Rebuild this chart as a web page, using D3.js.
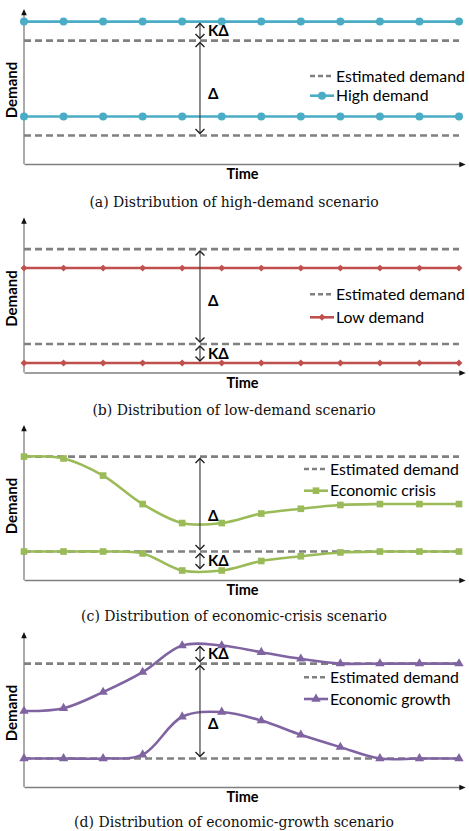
<!DOCTYPE html>
<html>
<head>
<meta charset="utf-8">
<script src="https://cdn.jsdelivr.net/npm/d3@7/dist/d3.min.js"></script>
<style>
  body { margin: 0; background: #fff; }
  text { font-family: Lato, "Open Sans", sans-serif; fill: #000; }
  .caption { font-family: "DejaVu Serif", "Liberation Serif", serif; fill: #111; }
</style>
</head>
<body>
<div class="chart"></div>
<script>
// time steps (x categories)
const time = [1, 2, 3, 4, 5, 6, 7, 8, 9, 10, 11, 12];
// two estimated demand levels, Δ apart
const estimated = [1, 2];
const K = 0.2;

const highUpper = [2.2, 2.2, 2.2, 2.2, 2.2, 2.2, 2.2, 2.2, 2.2, 2.2, 2.2, 2.2];
const highLower = [1.2, 1.2, 1.2, 1.2, 1.2, 1.2, 1.2, 1.2, 1.2, 1.2, 1.2, 1.2];
const lowUpper = [1.8, 1.8, 1.8, 1.8, 1.8, 1.8, 1.8, 1.8, 1.8, 1.8, 1.8, 1.8];
const lowLower = [0.8, 0.8, 0.8, 0.8, 0.8, 0.8, 0.8, 0.8, 0.8, 0.8, 0.8, 0.8];
const crisisUpper = [2.0, 1.98, 1.8, 1.5, 1.3, 1.3, 1.4, 1.45, 1.49, 1.5, 1.5, 1.5];
const crisisLower = [1.0, 1.0, 1.0, 0.98, 0.8, 0.8, 0.9, 0.95, 0.99, 1.0, 1.0, 1.0];
const growthUpper = [1.5, 1.53, 1.7, 1.91, 2.19, 2.19, 2.12, 2.05, 2.0, 2.0, 2.0, 2.0];
const growthLower = [1.0, 1.0, 1.0, 1.04, 1.44, 1.49, 1.4, 1.25, 1.12, 1.0, 1.0, 1.0];

const seriesNames = ["High demand", "Low demand", "Economic crisis", "Economic growth"];
const captions = [
  "(a) Distribution of high-demand scenario",
  "(b) Distribution of low-demand scenario",
  "(c) Distribution of economic-crisis scenario",
  "(d) Distribution of economic-growth scenario"
];

const width = 469;
const height = 831;

const panels = [
  { name: seriesNames[0], caption: captions[0], series: [highUpper, highLower],
    color: "#4bacc6", symbol: d3.symbolCircle, size: 50, curve: d3.curveLinear,
    axisY: 164, kArrow: [2.0, 2.0 + K], deltaLabel: 1.44,
    legendX: 310, legendY: [-88, -68.3], captionY: 207 },
  { name: seriesNames[1], caption: captions[1], series: [lowUpper, lowLower],
    color: "#c0504d", symbol: d3.symbolDiamond2 || d3.symbolDiamond, size: 30, curve: d3.curveLinear,
    axisY: 372.5, kArrow: [1.0 - K, 1.0], deltaLabel: 1.46,
    legendX: 310, legendY: [-78.2, -55.2], captionY: 414.5 },
  { name: seriesNames[2], caption: captions[2], series: [crisisUpper, crisisLower],
    color: "#9bbb59", symbol: d3.symbolSquare, size: 44, curve: d3.curveCatmullRom,
    axisY: 580, kArrow: [1.0 - K, 1.0], deltaLabel: 1.38,
    legendX: 304, legendY: [-111, -89.3], captionY: 621 },
  { name: seriesNames[3], caption: captions[3], series: [growthUpper, growthLower],
    color: "#8064a2", symbol: d3.symbolTriangle, size: 38, curve: d3.curveCatmullRom,
    axisY: 787, kArrow: [2.0, 2.0 + K], deltaLabel: 1.37,
    legendX: 304, legendY: [-109.7, -88], captionY: 827 }
];

const svg = d3
  .select(".chart")
  .append("svg")
  .attr("width", width)
  .attr("height", height);

const defs = svg.append("defs");
defs
  .append("marker")
  .attr("id", "tip")
  .attr("viewBox", "-5 -5 10 10")
  .attr("markerWidth", 8)
  .attr("markerHeight", 8)
  .attr("markerUnits", "userSpaceOnUse")
  .attr("orient", "auto")
  .append("path")
  .attr("d", "M-4,-3.5L4,0L-4,3.5Z")
  .attr("fill", "#111");
defs
  .append("marker")
  .attr("id", "chev")
  .attr("viewBox", "-6 -6 12 12")
  .attr("markerWidth", 12)
  .attr("markerHeight", 12)
  .attr("markerUnits", "userSpaceOnUse")
  .attr("orient", "auto-start-reverse")
  .append("path")
  .attr("d", "M-4.5,-4.5L0,0L-4.5,4.5")
  .attr("fill", "none")
  .attr("stroke", "#222")
  .attr("stroke-width", 1.4);

const xScale = d3.scaleLinear().domain([1, 12]).range([24, 459]);
const arrowTime = 5.45;

const builder = p => {
  const g = svg.append("g");
  const yScale = d3
    .scaleLinear()
    .domain([0.7, 2.28])
    .range([p.axisY, p.axisY - 150]);

  // axes with arrow tips
  const frame = d3.scaleLinear().domain([0, 1]).range([24, 462]);
  const xAxis = g
    .append("g")
    .attr("transform", `translate(0, ${p.axisY})`)
    .call(d3.axisBottom(frame).tickValues([]).tickSizeOuter(0));
  xAxis.select(".domain").attr("stroke", "#7f7f7f").attr("stroke-width", 1.3)
    .attr("marker-end", "url(#tip)");
  const yAxis = g
    .append("g")
    .attr("transform", "translate(24, 0)")
    .call(d3.axisLeft(yScale).tickValues([]).tickSizeOuter(0));
  yAxis.select(".domain").attr("stroke", "#7f7f7f").attr("stroke-width", 1.3)
    .attr("d", `M0,${p.axisY}V${yScale(2.3)}`)
    .attr("marker-end", "url(#tip)");

  // estimated demand
  g.selectAll(".est")
    .data(estimated)
    .enter()
    .append("line")
    .attr("x1", xScale(time[0]))
    .attr("x2", xScale(time[time.length - 1]))
    .attr("y1", d => yScale(d))
    .attr("y2", d => yScale(d))
    .attr("stroke", "#808080")
    .attr("stroke-width", 2.6)
    .attr("stroke-dasharray", "7,4");

  // scenario series
  const line = d3
    .line()
    .x((d, i) => xScale(time[i]))
    .y(d => yScale(d))
    .curve(p.curve);
  const sym = d3.symbol().type(p.symbol).size(p.size);
  p.series.forEach(values => {
    g.append("path")
      .attr("d", line(values))
      .attr("fill", "none")
      .attr("stroke", p.color)
      .attr("stroke-width", 2.6);
    g.selectAll(null)
      .data(values)
      .enter()
      .append("path")
      .attr("d", sym)
      .attr("transform", (d, i) => `translate(${xScale(time[i])}, ${yScale(d)})`)
      .attr("fill", p.color);
  });

  // Δ and KΔ arrows
  const ax = xScale(arrowTime);
  [[estimated[0], estimated[1]], p.kArrow].forEach(r => {
    g.append("line")
      .attr("x1", ax)
      .attr("x2", ax)
      .attr("y1", yScale(r[0]) - 2)
      .attr("y2", yScale(r[1]) + 2)
      .attr("stroke", "#404040")
      .attr("stroke-width", 1.2)
      .attr("marker-start", "url(#chev)")
      .attr("marker-end", "url(#chev)");
  });
  g.append("text")
    .attr("x", ax + 8)
    .attr("y", yScale(p.deltaLabel))
    .attr("dy", "0.35em")
    .attr("font-size", 15)
    .attr("font-weight", "bold")
    .text("Δ");
  g.append("text")
    .attr("x", ax + 8)
    .attr("y", yScale((p.kArrow[0] + p.kArrow[1]) / 2))
    .attr("dy", "0.35em")
    .attr("font-size", 15)
    .attr("font-weight", "bold")
    .text("KΔ");

  // axis titles
  g.append("text")
    .attr("x", 242.5)
    .attr("y", p.axisY + 15)
    .attr("text-anchor", "middle")
    .attr("font-size", 14.5)
    .attr("font-weight", "bold")
    .text("Time");
  g.append("text")
    .attr("transform", `translate(16.5, ${p.axisY - 74}) rotate(-90)`)
    .attr("text-anchor", "middle")
    .attr("font-size", 15)
    .attr("font-weight", "bold")
    .text("Demand");

  // legend
  const lx = p.legendX;
  const lw = 24;
  const leg = g.append("g");
  leg.append("line")
    .attr("x1", lx).attr("x2", lx + lw)
    .attr("y1", p.axisY + p.legendY[0]).attr("y2", p.axisY + p.legendY[0])
    .attr("stroke", "#808080").attr("stroke-width", 2.6)
    .attr("stroke-dasharray", "5,3");
  leg.append("line")
    .attr("x1", lx).attr("x2", lx + lw)
    .attr("y1", p.axisY + p.legendY[1]).attr("y2", p.axisY + p.legendY[1])
    .attr("stroke", p.color).attr("stroke-width", 2.6);
  leg.append("path")
    .attr("d", sym)
    .attr("transform", `translate(${lx + lw / 2}, ${p.axisY + p.legendY[1]})`)
    .attr("fill", p.color);
  ["Estimated demand", p.name].forEach((t, i) => {
    leg.append("text")
      .attr("x", lx + lw + 2)
      .attr("y", p.axisY + p.legendY[i])
      .attr("dy", "0.35em")
      .attr("font-size", 15.8)
      .text(t);
  });

  g.append("text")
    .attr("class", "caption")
    .attr("x", 234)
    .attr("y", p.captionY)
    .attr("text-anchor", "middle")
    .attr("font-size", 14)
    .text(p.caption);
};

panels.forEach(builder);
</script>
</body>
</html>
